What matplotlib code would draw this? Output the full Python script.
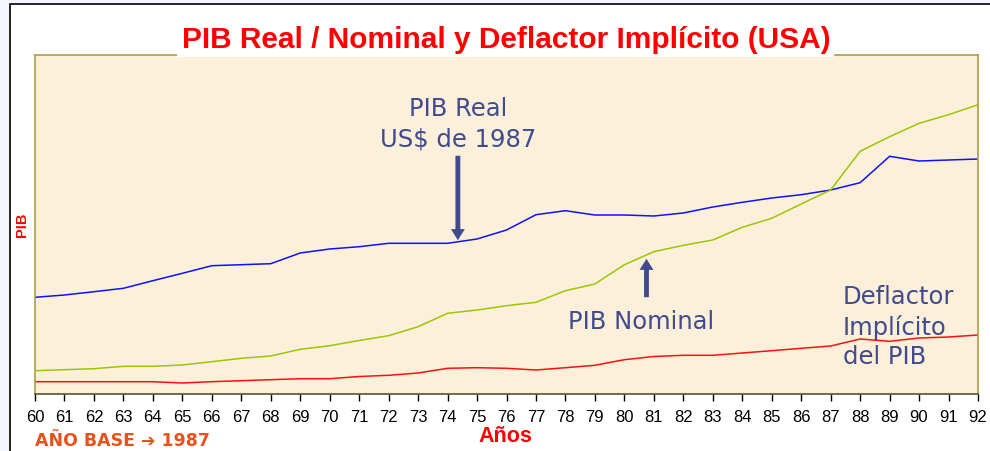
import matplotlib
matplotlib.use('Agg')

import matplotlib.pyplot as plt
from matplotlib.patches import Rectangle

years = list(range(60, 93))
year_labels = [str(y) for y in years]

# values (arbitrary units, no y scale shown)
pib_real = [96.7, 99, 102.3, 105.7, 113.3, 120.7, 128.3, 129.3, 130.3, 141, 145,
            147.3, 150.7, 150.7, 150.7, 155, 164, 179.3, 183.3, 179, 179, 178,
            181, 187, 191.7, 196, 199.3, 204, 211.3, 237.7, 233, 234, 235]
pib_nominal = [23.3, 24.3, 25.3, 27.7, 27.7, 29, 32.3, 35.7, 38, 44.7, 48.3,
               53.5, 58.3, 67.3, 80.7, 84, 88.3, 91.7, 103.3, 110, 129.3, 142.3,
               148.7, 154, 166.7, 175.7, 190, 204, 242.7, 257.3, 270.7, 279.3, 289.3]
deflactor = [12.3, 12.3, 12.3, 12.3, 12.3, 11, 12.3, 13.3, 14.3, 15.3, 15.3,
             17.5, 18.7, 21, 25.7, 26.3, 25.7, 24, 26.3, 28.7, 34.3, 37.5,
             38.7, 38.7, 41, 43.3, 45.7, 48, 55, 52.7, 56, 57, 59]

note_color = '#404a8e'
olive = '#a9a144'

fig = plt.figure(figsize=(9.9, 4.52), dpi=100)
fig.patch.set_facecolor('#f4f6fb')
# slide frame (left and top edges visible)
fig.add_artist(Rectangle((10 / 990, -0.05), 1.2, 1.05 - 5 / 452,
                         transform=fig.transFigure, facecolor='white',
                         edgecolor='black', linewidth=1.2, zorder=0))

ax = fig.add_axes([35 / 990, 1 - 395 / 452, (978 - 35) / 990, (395 - 56) / 452])
ax.set_facecolor('#fcf0db')

ax.plot(years, pib_real, color='#1010ff', lw=1.1)
ax.plot(years, pib_nominal, color='#99c800', lw=1.1)
ax.plot(years, deflactor, color='#ff1010', lw=1.1)

ax.set_xlim(60, 92)
ax.set_ylim(0, 339)
ax.set_xticks(years)
ax.set_xticklabels(year_labels, fontsize=12, family='Liberation Sans')
ax.set_yticks([])
ax.tick_params(axis='x', length=5, width=1, color='black', pad=6)
for side in ['left', 'top', 'right']:
    ax.spines[side].set_color(olive)
    ax.spines[side].set_linewidth(1.2)
ax.spines['bottom'].set_color('#55552a')
ax.spines['bottom'].set_linewidth(1.2)

# annotations
arrow_style = 'simple,head_width=1.0,head_length=0.8,tail_width=0.35'
ax.text(74.35, 271, 'PIB Real\nUS$ de 1987', color=note_color, fontsize=17.5,
        ha='center', va='center', linespacing=1.35)
ax.annotate('', xy=(74.35, 151), xytext=(74.35, 241),
            arrowprops=dict(arrowstyle=arrow_style, color=note_color, lw=0))
ax.text(78.1, 73, 'PIB Nominal', color=note_color, fontsize=17.5, ha='left', va='center')
ax.annotate('', xy=(80.75, 138), xytext=(80.75, 94),
            arrowprops=dict(arrowstyle=arrow_style, color=note_color, lw=0))
ax.text(87.42, 68, 'Deflactor\nImplícito\ndel PIB', color=note_color, fontsize=17.5,
        ha='left', va='center', linespacing=1.27)

fig.text(0.511, 1 - 40 / 452, 'PIB Real / Nominal y Deflactor Implícito (USA)',
         color='#ff0000', fontsize=21.5, fontweight='bold', family='Liberation Sans',
         ha='center', va='center', zorder=5,
         bbox=dict(facecolor='white', edgecolor='none', pad=3))
fig.text(0.511, 1 - 437 / 452, 'Años', color='#ff0000', fontsize=15.5,
         fontweight='bold', family='Liberation Sans', ha='center', va='center')
fig.text(22 / 990, 1 - 225 / 452, 'PIB', color='#ff0000', fontsize=10.5,
         fontweight='bold', family='Liberation Sans', rotation=90,
         ha='center', va='center')
fig.text(35 / 990, 1 - 441 / 452, 'AÑO BASE ➔ 1987', color='#e8521c', fontsize=12.5,
         fontweight='bold', family='DejaVu Sans', ha='left', va='center')

fig.savefig('out.png', dpi=100)
